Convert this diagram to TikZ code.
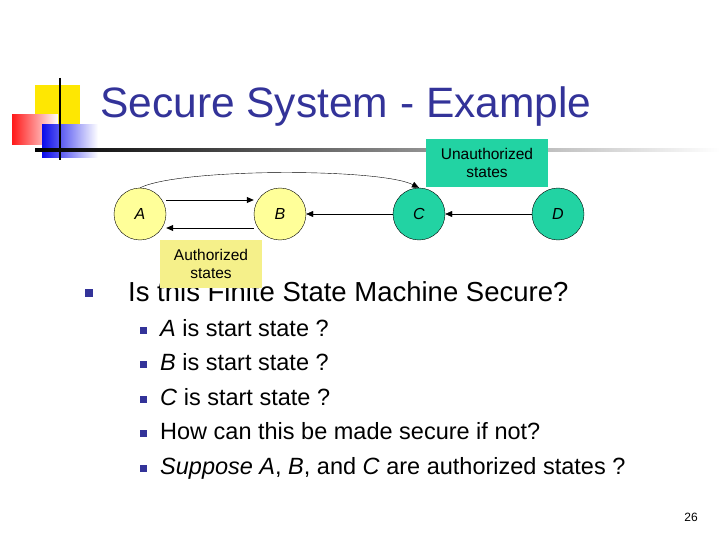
\documentclass[tikz,border=0pt]{standalone}
\usepackage{fontspec}
\setmainfont{Liberation Sans}
\usetikzlibrary{arrows.meta}
\definecolor{ttl}{HTML}{333399}
\definecolor{yel}{HTML}{FFFF99}
\definecolor{grn}{HTML}{22D3A3}
\definecolor{byel}{HTML}{F5F08A}
\begin{document}
\begin{tikzpicture}[x=1pt,y=-1pt,
 st/.style={circle,draw,minimum size=52pt,inner sep=0pt,font=\fontsize{16}{16}\selectfont\itshape},
 lbl/.style={inner sep=0pt,align=center,font=\fontsize{15.5}{18}\selectfont},
 arr/.style={-{Triangle[length=7pt,width=6pt]}},
 bul/.style={fill=ttl,minimum size=8pt,inner sep=0pt}]
\useasboundingbox (0,0) rectangle (720,540);
% decoration
\fill[yellow!90!orange] (35,85) rectangle (80,125);
\shade[left color=red!90,right color=white] (12,115) rectangle (58,145);
\shade[left color=blue!80!ttl,right color=white] (42,125) rectangle (98,158);
\draw[line width=1.5pt] (60,78) -- (60,160);
\shade[left color=black,right color=white] (35,149) rectangle (720,151.5);
\node[anchor=base west,text=ttl,inner sep=0pt,font=\fontsize{42.5}{42}\selectfont] (title) at (100,118) {Secure System - Example};
% states
\node[st,fill=yel] (A) at (140,214) {A};
\node[st,fill=yel] (B) at (280,214) {B};
\node[st,fill=grn] (C) at (419,214) {C};
\node[st,fill=grn] (D) at (558,214) {D};
\draw[arr,thick] ([yshift=14pt]A.east) -- ([yshift=14pt]B.west);
\draw[arr,thick] ([yshift=-14pt]B.west) -- ([yshift=-14pt]A.east);
\draw[arr] (C) -- (B);
\draw[arr] (D) -- (C);
\draw[arr] (A.north) .. controls (180,168) and (380,168) .. (C.north);
\node[lbl,fill=grn,minimum width=122pt,minimum height=48pt] (U) at (487,163) {Unauthorized\\states};
% bullets
\node[bul] (b0) at (89,293) {};
\node[anchor=base west,inner sep=0pt,font=\fontsize{27.5}{27}\selectfont] (t0) at (128,301) {Is this Finite State Machine Secure?};
\node[lbl,fill=byel,minimum width=102pt,minimum height=48pt] (Au) at (211,264) {Authorized\\states};
\foreach \y/\t [count=\i] in {328/{\textit{A} is start state ?},362/{\textit{B} is start state ?},397/{\textit{C} is start state ?},431/{How can this be made secure if not?},466/{\textit{Suppose A}, \textit{B}, and \textit{C} are authorized states ?}}{
 \node[bul,minimum size=7pt] (s\i) at (143,\y+2) {};
 \node[anchor=base west,inner sep=0pt,font=\fontsize{23.5}{23}\selectfont] (u\i) at (160,\y+8) {\t};
}
\node[anchor=base east,inner sep=0pt,font=\fontsize{12}{12}\selectfont] (pg) at (698,521) {26};
\end{tikzpicture}
\end{document}
